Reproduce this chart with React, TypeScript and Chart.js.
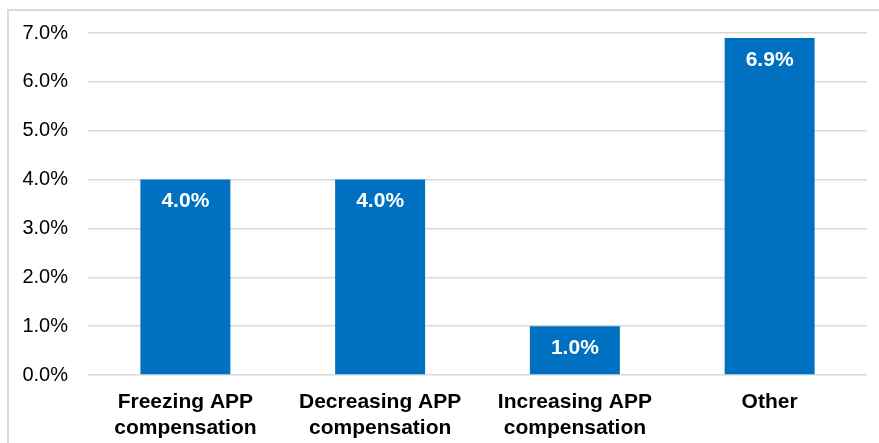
import React, { useEffect, useRef } from "react";
import { Chart, registerables } from "chart.js";

Chart.register(...registerables);

const categories: string[][] = [
  ["Freezing APP", "compensation"],
  ["Decreasing APP", "compensation"],
  ["Increasing APP", "compensation"],
  ["Other"],
];
const shares: number[] = [4.0, 4.0, 1.0, 6.9];
const yTicks: number[] = [0, 1, 2, 3, 4, 5, 6, 7];

const BAR_COLOR = "#0070C0";
const GRID_COLOR = "#d9d9d9";
const FONT = "'Liberation Sans', Arial, sans-serif";

// Light frame around the whole chart, only its top-left corner falls inside the canvas
const framePlugin = {
  id: "frame",
  beforeDraw(chart: Chart) {
    const { ctx, width, height } = chart;
    ctx.save();
    ctx.fillStyle = "#ffffff";
    ctx.fillRect(0, 0, width, height);
    ctx.strokeStyle = GRID_COLOR;
    ctx.lineWidth = 2;
    ctx.strokeRect(8, 10, width + 20, height + 20);
    ctx.restore();
  },
};

// White value labels just inside the top of each bar
const valueLabelPlugin = {
  id: "valueLabels",
  afterDatasetsDraw(chart: Chart) {
    const { ctx } = chart;
    const meta = chart.getDatasetMeta(0);
    ctx.save();
    ctx.fillStyle = "#ffffff";
    ctx.font = `bold 21px ${FONT}`;
    ctx.textAlign = "center";
    ctx.textBaseline = "middle";
    meta.data.forEach((bar: any, i: number) => {
      const v = shares[i];
      ctx.fillText(`${v.toFixed(1)}%`, bar.x, bar.y + 22);
    });
    ctx.restore();
  },
};

export default function App() {
  const canvasRef = useRef<HTMLCanvasElement | null>(null);

  useEffect(() => {
    document.body.style.margin = "0";
    const canvas = canvasRef.current;
    if (!canvas) return;
    const chart = new Chart(canvas, {
      type: "bar",
      data: {
        labels: categories,
        datasets: [
          {
            data: shares,
            backgroundColor: BAR_COLOR,
            borderWidth: 0,
            categoryPercentage: 1,
            barPercentage: 0.462,
          },
        ],
      },
      options: {
        animation: false,
        responsive: false,
        devicePixelRatio: 1,
        layout: { padding: { top: 33, right: 12, left: 0, bottom: 0 } },
        plugins: {
          legend: { display: false },
          tooltip: { enabled: false },
        },
        scales: {
          x: {
            afterFit(scale: any) {
              scale.height = 68;
            },
            grid: { display: false, drawTicks: false },
            border: { display: false },
            ticks: {
              color: "#000000",
              font: { family: FONT, size: 21, weight: "bold", lineHeight: 1.2 },
              padding: 15,
              maxRotation: 0,
              autoSkip: false,
            },
          },
          y: {
            min: 0,
            max: 7,
            afterBuildTicks(scale: any) {
              scale.ticks = yTicks.map((v) => ({ value: v }));
            },
            afterFit(scale: any) {
              scale.width = 88;
            },
            grid: { color: GRID_COLOR, lineWidth: 1.5, drawTicks: false },
            border: { display: false },
            ticks: {
              color: "#000000",
              font: { family: FONT, size: 20 },
              padding: 20,
              callback: (v: any) => `${Number(v).toFixed(1)}%`,
            },
          },
        },
      },
      plugins: [framePlugin, valueLabelPlugin],
    });
    return () => chart.destroy();
  }, []);

  return (
    <div style={{ width: 879, height: 443 }}>
      <canvas ref={canvasRef} width={879} height={443} style={{ display: "block" }} />
    </div>
  );
}
